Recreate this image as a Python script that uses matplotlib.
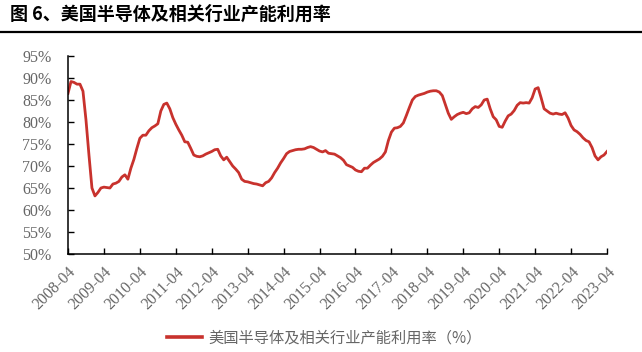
import matplotlib
matplotlib.use('Agg')
from matplotlib import pyplot as plt
from matplotlib.lines import Line2D

title = "图 6、美国半导体及相关行业产能利用率"
series_name = "美国半导体及相关行业产能利用率（%）"

# monthly, 2008-04 .. 2023-04
months = ["%d-%02d" % (2008 + (3 + i) // 12, (3 + i) % 12 + 1) for i in range(181)]
util = [
    86.5, 89.2, 89.0, 88.6, 88.6, 87.0, 80.5, 72.5, 65.0, 63.2, 64.0, 65.0,
    65.2, 65.1, 65.0, 65.9, 66.1, 66.5, 67.5, 68.0, 67.0, 69.5, 71.5, 74.0,
    76.3, 77.0, 77.0, 78.0, 78.7, 79.1, 79.6, 82.5, 84.0, 84.3, 83.0, 81.0,
    79.5, 78.2, 77.0, 75.5, 75.4, 74.0, 72.5, 72.2, 72.1, 72.3, 72.7, 73.0,
    73.3, 73.7, 73.8, 72.3, 71.4, 72.0, 71.0, 70.0, 69.3, 68.5, 67.0, 66.5,
    66.4, 66.2, 66.0, 65.9, 65.7, 65.5, 66.2, 66.5, 67.3, 68.5, 69.5, 70.7,
    71.7, 72.8, 73.3, 73.5, 73.7, 73.8, 73.8, 73.9, 74.2, 74.4, 74.2, 73.8,
    73.4, 73.2, 73.5, 72.9, 72.8, 72.7, 72.3, 71.9, 71.3, 70.3, 70.0, 69.7,
    69.1, 68.8, 68.7, 69.5, 69.5, 70.2, 70.8, 71.2, 71.6, 72.2, 73.2, 75.8,
    77.7, 78.6, 78.7, 79.0, 79.8, 81.5, 83.3, 85.0, 85.8, 86.1, 86.3, 86.5,
    86.8, 87.0, 87.1, 87.1, 86.8, 86.0, 84.0, 82.0, 80.6, 81.2, 81.7, 82.0,
    82.2, 81.9, 82.1, 83.0, 83.5, 83.3, 83.9, 85.0, 85.2, 83.0, 81.2, 80.5,
    79.0, 78.8, 80.2, 81.4, 81.8, 82.6, 83.8, 84.4, 84.3, 84.4, 84.3, 85.5,
    87.5, 87.8, 85.5, 83.0, 82.5, 82.0, 81.8, 82.0, 81.8, 81.7, 82.1, 80.9,
    79.2, 78.2, 77.8, 77.2, 76.4, 75.8, 75.5, 74.2, 72.3, 71.4, 72.1, 72.5,
    73.3,
]

yticks = list(range(50, 100, 5))
gray = '#666666'

fig = plt.figure(figsize=(6.42, 3.52), dpi=100)
ax = fig.add_axes([68 / 642, 1 - 254 / 352, (607 - 68) / 642, (254 - 56) / 352])

x = list(range(len(util)))
ax.plot(x, util, color='#C8322D', lw=2.0, label=series_name)

ax.set_xlim(0, len(util) - 1)
ax.set_ylim(50, 95)
ax.set_yticks(yticks)
ax.set_yticklabels(["%d%%" % v for v in yticks], fontsize=11.5,
                   family='Liberation Serif', color=gray)
ax.set_xticks(x[::12])
ax.set_xticklabels(months[::12], rotation=45, ha='right', rotation_mode='anchor',
                   fontsize=11.5, family='Liberation Serif', color=gray)
ax.tick_params(direction='in', length=4, width=1, color='black')
ax.tick_params(axis='y', pad=12)
ax.tick_params(axis='x', pad=7)
for s in ['top', 'right']:
    ax.spines[s].set_visible(False)
for s in ['left', 'bottom']:
    ax.spines[s].set_linewidth(1.1)

leg = ax.legend(loc='center', bbox_to_anchor=(0.505, 1 - 338 / 352),
                bbox_transform=fig.transFigure, frameon=False,
                prop={'family': 'Noto Sans CJK SC', 'size': 11},
                handlelength=2.3, handletextpad=0.4)
for line in leg.get_lines():
    line.set_linewidth(2.6)
for t in leg.get_texts():
    t.set_color(gray)

fig.text(10 / 642, 1 - 14 / 352, title, fontsize=13, fontweight='bold',
         family=['Noto Sans CJK SC', 'DejaVu Sans'], va='center', ha='left')
fig.add_artist(Line2D([0, 1], [1 - 32 / 352, 1 - 32 / 352],
                      transform=fig.transFigure, color='black', lw=1.6))

fig.savefig('out.png', dpi=100)
